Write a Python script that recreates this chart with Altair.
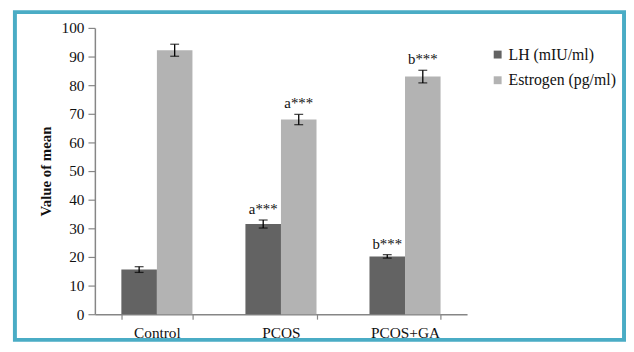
import altair as alt
import pandas as pd

groups = ["Control", "PCOS", "PCOS+GA"]
series = ["LH (mIU/ml)", "Estrogen (pg/ml)"]
lh_mean = [15.6, 31.5, 20.2]
lh_err = [1.0, 1.4, 0.6]
est_mean = [92.2, 68.0, 83.0]
est_err = [2.1, 1.8, 2.2]
lh_labels = ["", "a***", "b***"]
est_labels = ["", "a***", "b***"]
colors = ["#636363", "#b3b3b3"]
y_ticks = list(range(0, 101, 10))

rows = []
for i, g in enumerate(groups):
    rows.append({"group": g, "series": series[0], "value": lh_mean[i],
                 "lo": lh_mean[i] - lh_err[i], "hi": lh_mean[i] + lh_err[i], "label": lh_labels[i]})
    rows.append({"group": g, "series": series[1], "value": est_mean[i],
                 "lo": est_mean[i] - est_err[i], "hi": est_mean[i] + est_err[i], "label": est_labels[i]})
df = pd.DataFrame(rows)

FONT = "Liberation Serif"
AX = "#868686"

x_axis = alt.Axis(title=None, labelAngle=0, tickBand="extent", domainColor=AX,
                  domainWidth=1.5, tickColor=AX, tickWidth=1.2, tickSize=5,
                  labelFont=FONT, labelFontSize=15.5, labelColor="#111111",
                  labelPadding=7)
x_scale = alt.Scale(paddingInner=0.427, paddingOuter=0.2135)
y_axis = alt.Axis(values=y_ticks, tickCount=11, labelOverlap=False, title="Value of mean",
                  titleFont=FONT, titleFontSize=15, titleFontWeight="bold",
                  titleColor="#111111", titlePadding=8, grid=False, domainColor=AX,
                  domainWidth=1.5, tickColor=AX, tickWidth=1.2, tickSize=7,
                  labelFont=FONT, labelFontSize=15.5, labelColor="#111111",
                  labelPadding=4)
y_scale = alt.Scale(domain=[0, 100], nice=False)


def X():
    return alt.X("group:N", sort=groups, scale=x_scale, axis=x_axis)


def XO():
    return alt.XOffset("series:N", sort=series, scale=alt.Scale(paddingInner=0, paddingOuter=0))


def Y(field):
    return alt.Y(field, scale=y_scale, axis=y_axis, title="Value of mean")


base = alt.Chart(df)

bars = base.mark_bar().encode(
    x=X(), xOffset=XO(), y=Y("value:Q"),
    color=alt.Color("series:N", sort=series,
                    scale=alt.Scale(domain=series, range=colors),
                    legend=alt.Legend(title=None, orient="none", legendX=400, legendY=19,
                                      symbolType="square", symbolSize=64, symbolStrokeWidth=0,
                                      labelFont=FONT, labelFontSize=16, labelColor="#111111",
                                      labelOffset=3, rowPadding=10)),
)

err = base.mark_rule(color="black", strokeWidth=1.3).encode(
    x=X(), xOffset=XO(), y=Y("lo:Q"), y2="hi:Q")

cap_hi = base.mark_tick(color="black", thickness=1.3, size=9, orient="horizontal").encode(
    x=X(), xOffset=XO(), y=Y("hi:Q"))
cap_lo = base.mark_tick(color="black", thickness=1.3, size=9, orient="horizontal").encode(
    x=X(), xOffset=XO(), y=Y("lo:Q"))

labels = base.mark_text(font=FONT, fontSize=15, color="#111111", baseline="bottom", dy=-3).encode(
    x=X(), xOffset=XO(), y=Y("hi:Q"), text="label:N")

frame = alt.Chart(pd.DataFrame({"k": [0]})).mark_rect(
    filled=False, stroke="#4aacc5", strokeWidth=4).encode(
    x=alt.value(-81), x2=alt.value(536), y=alt.value(-16), y2=alt.value(316))

chart = alt.layer(bars, err, cap_hi, cap_lo, labels, frame).properties(
    width=377, height=290,
    autosize=alt.AutoSizeParams(type="none"),
    padding={"left": 88, "top": 18, "right": 161, "bottom": 28},
).configure_view(strokeWidth=0)

chart.save("out.html", embed_options={"renderer": "svg", "actions": False})
